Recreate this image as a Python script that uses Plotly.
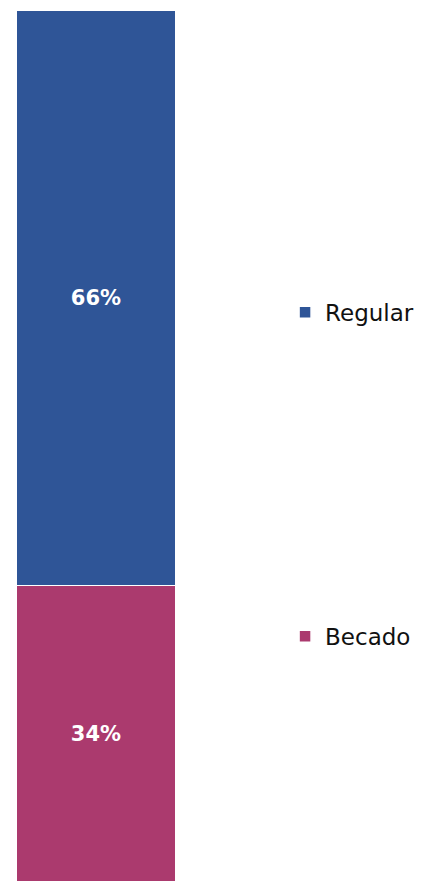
import plotly.graph_objects as go

categories = ["Total"]
regular = [66]
becado = [34]
labels_regular = ["66%"]
labels_becado = ["34%"]

BLUE = "#2F5597"
PINK = "#AB3A6E"
FONT = "DejaVu Sans"

fig = go.Figure()
fig.add_trace(go.Bar(
    x=[0], y=becado, name="Becado", width=1,
    marker=dict(color=PINK, line=dict(color="white", width=1.5)),
    text=labels_becado, textposition="inside", insidetextanchor="middle",
    textfont=dict(color="white", size=21, family=FONT, weight="bold"),
    legendgroup="b", legendrank=2,
))
fig.add_trace(go.Bar(
    x=[0], y=regular, name="Regular", width=1,
    marker=dict(color=BLUE, line=dict(color="white", width=1.5)),
    text=labels_regular, textposition="inside", insidetextanchor="middle",
    textfont=dict(color="white", size=21, family=FONT, weight="bold"),
    legendgroup="r", legendrank=1,
))

fig.update_layout(
    width=423, height=882,
    barmode="stack",
    margin=dict(l=0, r=0, t=2, b=8),
    paper_bgcolor="white", plot_bgcolor="white",
    xaxis=dict(range=[-0.55, 2.094], visible=False, fixedrange=True),
    yaxis=dict(range=[0, 100], visible=False, fixedrange=True),
    showlegend=True,
    legend=dict(
        x=0.655, xanchor="left", y=0.678, yanchor="top",
        traceorder="grouped", tracegroupgap=291,
        font=dict(family=FONT, size=23, color="#111111"),
        bgcolor="rgba(0,0,0,0)",
    ),
    uniformtext=dict(mode=False),
)

fig.write_html("out.html")
